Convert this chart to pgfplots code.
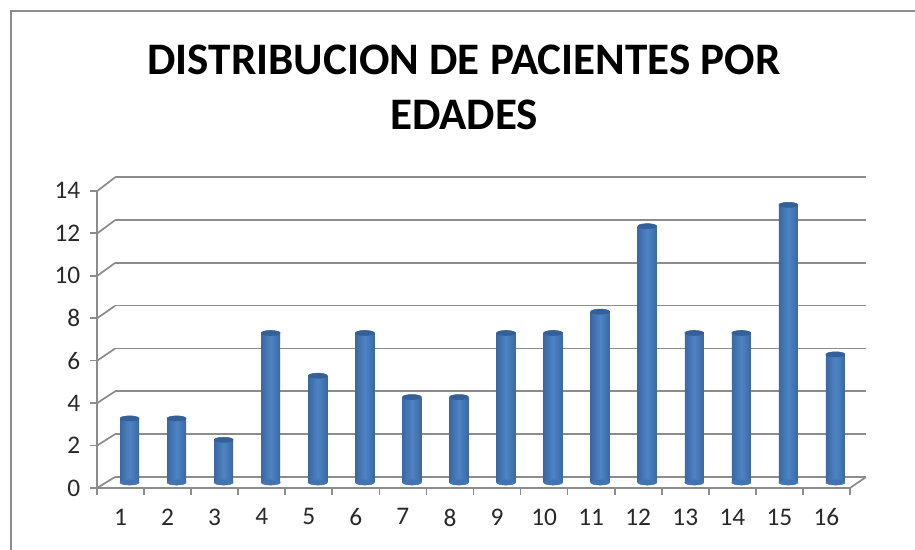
\documentclass[border=0pt]{standalone}
\usepackage{pgfplots}
\pgfplotsset{compat=1.18}
\usepackage{fontspec}
\setmainfont{Carlito}
\definecolor{gridc}{RGB}{140,140,140}
\definecolor{barmid}{RGB}{78,132,196}
\definecolor{bardark}{RGB}{58,104,162}
\definecolor{barbase}{RGB}{66,116,178}
\definecolor{bartop}{RGB}{52,96,152}
\definecolor{textc}{RGB}{40,40,40}

\pgfplotsset{
	capa/.style={
		scale only axis,
		anchor=south west,
		xmin=0.5, xmax=16.5,
		ymin=0, ymax=14,
		clip=false,
	},
}

% cada barra va en su propio addplot para que el sombreado sea por cilindro
\newcommand{\barra}[2]{%
	\addplot[only marks,mark=*,mark size=7.1pt,
		mark options={yscale=0.27,draw=barbase,fill=barbase}]
		coordinates {(#1,0)};
	\addplot[ybar,bar width=14.25pt,bar shift=0pt,draw=none,
		left color=bardark,right color=bardark,middle color=barmid]
		coordinates {(#1,#2)};
	\addplot[only marks,mark=*,mark size=7.1pt,
		mark options={yscale=0.27,rotate=6,draw=bartop,fill=bartop}]
		coordinates {(#1,#2)};
}

\begin{document}
\begin{tikzpicture}[x=0.75pt,y=0.75pt]
	\path[use as bounding box] (0,0) rectangle (915,550);
	\draw[gridc,line width=1.6pt] (11,0) -- (11,539) -- (915,539);

	\node[font=\fontsize{33.8}{41.25}\selectfont\bfseries,text=black,align=center] at (464,462.5) {DISTRIBUCION DE PACIENTES POR\\EDADES};

	% pared del fondo
	\begin{axis}[capa,
		at={(115*0.75pt,73*0.75pt)}, width=563.25pt, height=225pt,
		axis lines=none,
	]
		\pgfplotsinvokeforeach{0,2,...,14}{
			\addplot[gridc,line width=1.3pt] coordinates {(0.5,#1) (16.5,#1)};
		}
	\end{axis}

	% perspectiva
	\foreach \yf/\yb in {62/73,104.4/115.8,146.8/158.6,189.2/201.4,231.6/244.2,274/287,316.4/329.8,358.8/372.6} {
		\draw[gridc,line width=1.3pt] (97,\yf) -- (115,\yb);
	}
	\draw[gridc,line width=1.3pt] (850,62) -- (866,73);

	% ejes delanteros
	\begin{axis}[capa,
		at={(97*0.75pt,62*0.75pt)}, width=564.75pt, height=222.9pt,
		axis x line=bottom, axis y line=left,
		axis line style={gridc,line width=1.3pt,-},
		xtick={1,...,16},
		ytick={0,2,...,14},
		minor xtick={0.5,1.5,...,16.5},
		minor ytick={0,2,...,14},
		major tick length=0pt,
		minor tick length=5.25pt,
		minor tick style={gridc,line width=1.3pt},
		tick align=outside,
		/pgf/number format/assume math mode=true,
		tick label style={font=\fontsize{19}{22}\selectfont,text=textc},
		xticklabel style={yshift=-12pt},
		yticklabel style={xshift=-9pt},
	]
	\end{axis}

	% barras
	\begin{axis}[capa,
		at={(106*0.75pt,67.5*0.75pt)}, width=564.75pt, height=224.25pt,
		axis lines=none,
	]
		\barra{1}{3}
		\barra{2}{3}
		\barra{3}{2}
		\barra{4}{7}
		\barra{5}{5}
		\barra{6}{7}
		\barra{7}{4}
		\barra{8}{4}
		\barra{9}{7}
		\barra{10}{7}
		\barra{11}{8}
		\barra{12}{12}
		\barra{13}{7}
		\barra{14}{7}
		\barra{15}{13}
		\barra{16}{6}
	\end{axis}
\end{tikzpicture}
\end{document}
